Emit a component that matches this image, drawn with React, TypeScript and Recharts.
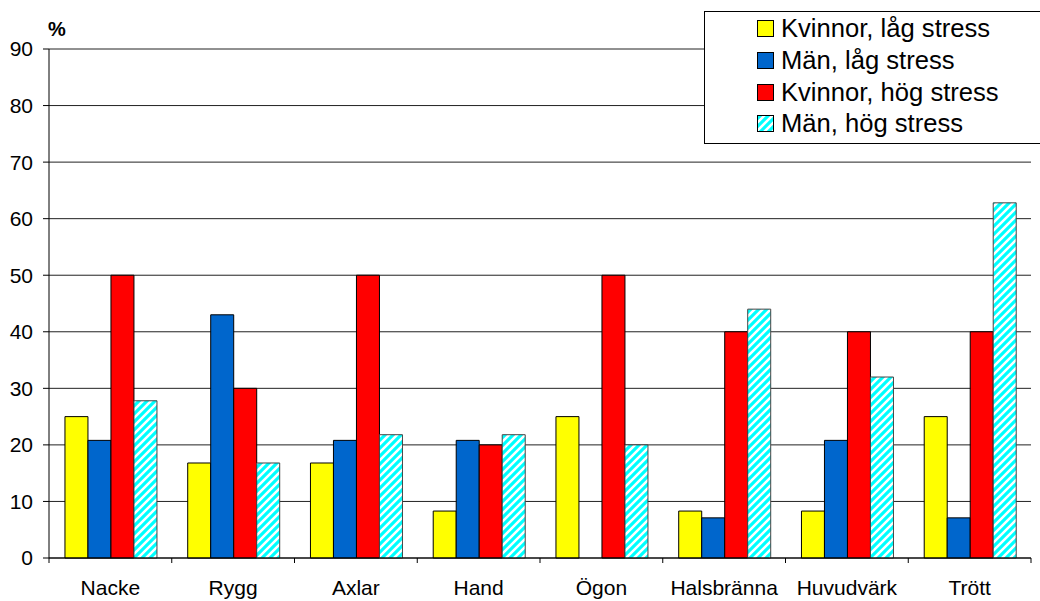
import React from 'react';
import { BarChart, Bar, XAxis, YAxis, CartesianGrid } from 'recharts';

const categories = ['Nacke', 'Rygg', 'Axlar', 'Hand', 'Ögon', 'Halsbränna', 'Huvudvärk', 'Trött'];
const kvinnorLag = [25, 16.8, 16.8, 8.3, 25, 8.3, 8.3, 25];
const manLag = [20.8, 43, 20.8, 20.8, 0, 7.1, 20.8, 7.1];
const kvinnorHog = [50, 30, 50, 20, 50, 40, 40, 40];
const manHog = [27.8, 16.8, 21.8, 21.8, 20, 44, 32, 62.8];
const yTicks = [0, 10, 20, 30, 40, 50, 60, 70, 80, 90];

const series = [
  { key: 'kl', name: 'Kvinnor, låg stress', fill: '#FFFF00', values: kvinnorLag },
  { key: 'ml', name: 'Män, låg stress', fill: '#0066CC', values: manLag },
  { key: 'kh', name: 'Kvinnor, hög stress', fill: '#FF0000', values: kvinnorHog },
  { key: 'mh', name: 'Män, hög stress', fill: 'url(#stripes)', values: manHog },
];

const data = categories.map((c, i) => {
  const row: any = { cat: c };
  series.forEach((s) => (row[s.key] = s.values[i]));
  return row;
});

const FONT = '"Liberation Sans", Arial, sans-serif';

const CatTick = (props: any) => {
  const { x, y, payload, index, visibleTicksCount } = props;
  const half = payload && payload.offset ? payload.offset : 61.4;
  const last = index === (visibleTicksCount ?? categories.length) - 1;
  return (
    <g>
      <line x1={x - half} x2={x - half} y1={y} y2={y + 5} stroke="#000" />
      {last && <line x1={x + half} x2={x + half} y1={y} y2={y + 5} stroke="#000" />}
      <text x={x} y={y + 22} dy="0.71em" textAnchor="middle" fontSize={21} fontFamily={FONT} fill="#000">
        {payload.value}
      </text>
    </g>
  );
};

const PctLabel = (props: any) => {
  const vb = props.viewBox || { x: 0, y: 49, width: 49 };
  return (
    <text x={vb.x + vb.width - 1} y={vb.y - 13} fontSize={20} fontWeight="bold" fontFamily={FONT} fill="#000">
      %
    </text>
  );
};

const Swatch = ({ fill }: { fill: string }) => (
  <svg width={17} height={17} style={{ display: 'block' }}>
    <rect x={0.5} y={0.5} width={16} height={16} fill={fill} stroke="#000" strokeWidth={1} />
  </svg>
);

export default function App() {
  return (
    <div style={{ position: 'absolute', left: 0, top: 0, width: 1040, height: 601, overflow: 'hidden', background: '#fff', fontFamily: FONT }}>
      <svg width={0} height={0} style={{ position: 'absolute' }}>
        <defs>
          <pattern id="stripes" patternUnits="userSpaceOnUse" width={8} height={8}>
            <rect width={8} height={8} fill="#00FFFF" />
            <path d="M-2,2 l4,-4 M0,8 l8,-8 M6,10 l4,-4" stroke="#fff" strokeWidth={2.5} />
          </pattern>
        </defs>
      </svg>
      <BarChart
        width={1040}
        height={601}
        data={data}
        margin={{ top: 49, right: 9, left: 0, bottom: 13 }}
        barCategoryGap="13%"
        barGap={0}
      >
        <CartesianGrid vertical={false} stroke="#222" strokeWidth={1} yAxisId="l" />
        <XAxis
          dataKey="cat"
          height={30}
          axisLine={{ stroke: '#000' }}
          tickLine={false}
          tickSize={0}
          tickMargin={0}
          tick={<CatTick />}
          interval={0}
        />
        <YAxis
          yAxisId="l"
          width={49}
          domain={[0, 90]}
          ticks={yTicks}
          interval={0}
          axisLine={{ stroke: '#000' }}
          tickLine={{ stroke: '#000' }}
          tickSize={6}
          tickMargin={10}
          tick={{ fontSize: 21, fill: '#000', fontFamily: FONT }}
          label={<PctLabel />}
        />
        <YAxis
          yAxisId="r"
          orientation="right"
          width={0}
          domain={[0, 90]}
          ticks={yTicks}
          tick={false}
          tickLine={false}
          axisLine={{ stroke: '#222' }}
        />
        {series.map((s) => (
          <Bar
            key={s.key}
            yAxisId="l"
            dataKey={s.key}
            name={s.name}
            fill={s.fill}
            stroke={s.key === 'mh' ? '#444' : '#000'}
            strokeWidth={1}
            isAnimationActive={false}
          />
        ))}
      </BarChart>
      <div
        style={{
          position: 'absolute',
          left: 704,
          top: 11,
          width: 345,
          height: 133,
          border: '1px solid #000',
          background: '#fff',
          boxSizing: 'border-box',
          paddingTop: 1,
        }}
      >
        {series.map((s) => (
          <div key={s.key} style={{ display: 'flex', alignItems: 'center', height: 31.7, paddingLeft: 52 }}>
            <Swatch fill={s.fill} />
            <span style={{ marginLeft: 7, fontSize: 25.6, color: '#000', whiteSpace: 'nowrap', lineHeight: '31px' }}>{s.name}</span>
          </div>
        ))}
      </div>
    </div>
  );
}
